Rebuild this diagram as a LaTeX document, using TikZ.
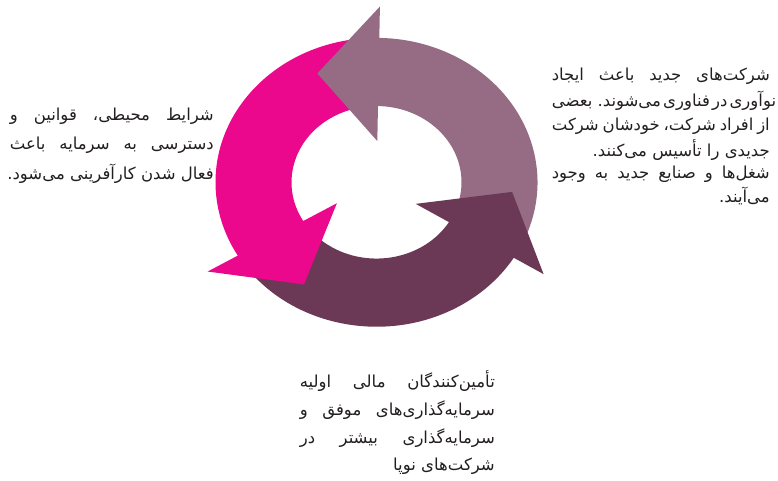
\documentclass[tikz,border=0pt]{standalone}
\usepackage{fontspec}
\newfontfamily\arabicfont[Script=Arabic]{DejaVu Sans}
\TeXXeTstate=1
\definecolor{mauveC}{RGB}{149,108,131}
\definecolor{darkC}{RGB}{107,57,85}
\definecolor{pinkC}{RGB}{236,8,141}
\definecolor{txtC}{RGB}{35,31,32}
\newcommand{\js}{\spaceskip=0.25em plus 1fil minus 0.12em\relax}
\tikzset{
  txt/.style={anchor=east, inner sep=0pt, font=\arabicfont\fontsize{16.5}{18}\selectfont, text=txtC}
}
\begin{document}
\begin{tikzpicture}[x=1pt,y=-1pt]
\useasboundingbox (0,0) rectangle (778,480);
\begin{scope}[shift={(376.5,182.3)}, yscale=-0.897]
  % bodies
  \fill[mauveC] (-26.5:161) arc[start angle=-26.5,end angle=92,radius=161] -- (92:85) arc[start angle=92,end angle=-26.5,radius=85] -- cycle;
  \fill[pinkC] (94:161) arc[start angle=94,end angle=213.5,radius=161] -- (213.5:85) arc[start angle=213.5,end angle=94,radius=85] -- cycle;
  \fill[darkC] (215.5:161) arc[start angle=215.5,end angle=331.5,radius=161] -- (331.5:85) arc[start angle=331.5,end angle=215.5,radius=85] -- cycle;
  % heads
  \fill[mauveC] (89:196) -- (116:135) -- (89:46) -- cycle;
  \fill[pinkC] (210.5:196) -- (237.5:135) -- (210.5:46) -- cycle;
  \fill[darkC] (328.5:196) -- (355.5:136) -- (328.5:46) -- cycle;
\end{scope}
% right text
\node[txt] (r1) at (770,76) {\hbox to 218pt{\js\beginR شرکت‌های جدید باعث ایجاد\endR}};
\node[txt] (r2) at (770,101) {\hbox to 218pt{\js\beginR نوآوری در فناوری می‌شوند. بعضی\endR}};
\node[txt] (r3) at (770,126) {\hbox to 218pt{\js\beginR از افراد شرکت، خودشان شرکت\endR}};
\node[txt] (r4) at (770,150) {\hbox{\beginR جدیدی را تأسیس می‌کنند.\endR}};
\node[txt] (r5) at (770,174) {\hbox to 218pt{\js\beginR شغل‌ها و صنایع جدید به وجود\endR}};
\node[txt] (r6) at (770,196) {\hbox{\beginR می‌آیند.\endR}};
% left text
\node[txt] (l1) at (214,116) {\hbox to 204pt{\js\beginR شرایط محیطی، قوانین و\endR}};
\node[txt] (l2) at (214,145) {\hbox to 204pt{\js\beginR دسترسی به سرمایه باعث\endR}};
\node[txt] (l3) at (214,174) {\hbox{\beginR فعال شدن کارآفرینی می‌شود.\endR}};
% bottom text
\node[txt] (b1) at (495,381) {\hbox to 195pt{\js\beginR تأمین‌کنندگان مالی اولیه\endR}};
\node[txt] (b2) at (495,410) {\hbox to 195pt{\js\beginR سرمایه‌گذاری‌های موفق و\endR}};
\node[txt] (b3) at (495,438) {\hbox to 195pt{\js\beginR سرمایه‌گذاری بیشتر در\endR}};
\node[txt] (b4) at (495,466) {\hbox{\beginR شرکت‌های نوپا\endR}};
\end{tikzpicture}
\end{document}
